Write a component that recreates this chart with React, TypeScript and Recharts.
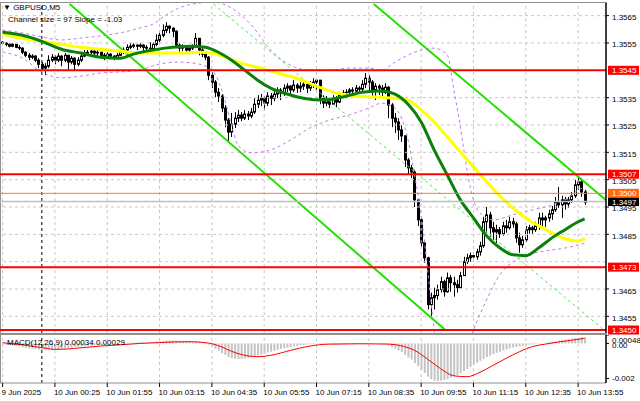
import { ComposedChart, Bar, Line, XAxis, YAxis, ReferenceLine } from 'recharts'

// GBPUSD M5, one entry per bar (open = previous close)
const firstOpen = 1.35553
const closes = [
  1.35549, 1.35545, 1.35538, 1.35545, 1.35534, 1.35531, 1.35516, 1.35505, 1.35498, 1.35502,
  1.35487, 1.35472, 1.35458, 1.35465, 1.35487, 1.35498, 1.35487, 1.35502, 1.35487, 1.35505,
  1.3548, 1.35494, 1.35472, 1.35487, 1.35502, 1.35513, 1.35516, 1.3552, 1.35513, 1.35516,
  1.35505, 1.35498, 1.35509, 1.35502, 1.35494, 1.35505, 1.35516, 1.35524, 1.35534, 1.35538,
  1.35542, 1.35538, 1.35542, 1.35534, 1.35531, 1.35527, 1.35545, 1.3556, 1.35578, 1.35596,
  1.35611, 1.35604, 1.35593, 1.35542, 1.35531, 1.35534, 1.35524, 1.35531, 1.35538, 1.35567,
  1.35524, 1.35509, 1.35498, 1.35432, 1.35407, 1.3537, 1.35356, 1.35312, 1.35268, 1.35224,
  1.35253, 1.35275, 1.35286, 1.35275, 1.3529, 1.35283, 1.35297, 1.35326, 1.35341, 1.35348,
  1.3533, 1.35356, 1.35348, 1.35363, 1.35378, 1.35367, 1.35385, 1.35392, 1.35378, 1.35396,
  1.35385, 1.35392, 1.35399, 1.35385, 1.35396, 1.35407, 1.35414, 1.35348, 1.3533, 1.35341,
  1.35326, 1.35348, 1.35334, 1.35359, 1.35367, 1.3537, 1.35378, 1.35374, 1.35385, 1.35381,
  1.35399, 1.35421, 1.35407, 1.35378, 1.35392, 1.35385, 1.3537, 1.35388, 1.35323, 1.35275,
  1.35261, 1.35232, 1.3521, 1.35122, 1.35093, 1.35078, 1.34976, 1.34903, 1.34819, 1.34764,
  1.34593, 1.34618, 1.34626, 1.34648, 1.34677, 1.3464, 1.34691, 1.34673, 1.34666, 1.34655,
  1.34699, 1.3475, 1.34764, 1.34772, 1.34768, 1.34786, 1.34808, 1.34896, 1.34921, 1.34874,
  1.34859, 1.34867, 1.34852, 1.34881, 1.34874, 1.34896, 1.34888, 1.34837, 1.34812, 1.3483,
  1.34867, 1.34874, 1.34867, 1.34881, 1.3491, 1.34903, 1.3491, 1.34925, 1.3494, 1.34969,
  1.34958, 1.34976, 1.34961, 1.34976, 1.34991, 1.35031, 1.35042, 1.35005, 1.34968,
]
const highs = [
  1.35556, 1.35553, 1.35549, 1.35549, 1.35545, 1.35542, 1.35534, 1.3552, 1.35513, 1.35509,
  1.35505, 1.35494, 1.3548, 1.35476, 1.35505, 1.35509, 1.35505, 1.35513, 1.35505, 1.35513,
  1.35505, 1.35502, 1.35498, 1.35498, 1.35509, 1.35524, 1.35524, 1.35527, 1.35524, 1.35524,
  1.35516, 1.35513, 1.35516, 1.35513, 1.35505, 1.35513, 1.35524, 1.35534, 1.35545, 1.35549,
  1.35549, 1.35545, 1.35549, 1.35545, 1.35542, 1.35553, 1.35553, 1.35582, 1.35596, 1.35618,
  1.35626, 1.35615, 1.35607, 1.35596, 1.35549, 1.35545, 1.35542, 1.35538, 1.35545, 1.35586,
  1.35567, 1.35531, 1.3552, 1.35502, 1.35443, 1.35414, 1.35385, 1.35363, 1.35323, 1.35275,
  1.35294, 1.35297, 1.35305, 1.35297, 1.35305, 1.35301, 1.35312, 1.35348, 1.35359, 1.35363,
  1.35356, 1.3537, 1.35367, 1.35381, 1.35388, 1.35385, 1.35399, 1.35403, 1.35396, 1.35414,
  1.35403, 1.35407, 1.35414, 1.35407, 1.3541, 1.35421, 1.35421, 1.35414, 1.35359, 1.35356,
  1.35348, 1.35359, 1.35356, 1.3537, 1.35378, 1.35381, 1.35385, 1.35388, 1.35396, 1.35392,
  1.35414, 1.3544, 1.35432, 1.35414, 1.35403, 1.35399, 1.35396, 1.35403, 1.35392, 1.3533,
  1.35294, 1.35275, 1.3525, 1.35213, 1.35129, 1.35104, 1.35086, 1.34976, 1.3491, 1.3483,
  1.34768, 1.34637, 1.34655, 1.34666, 1.34695, 1.34684, 1.3471, 1.34702, 1.34695, 1.34684,
  1.34713, 1.34768, 1.34779, 1.34783, 1.34786, 1.34797, 1.34823, 1.34914, 1.3495, 1.34932,
  1.34896, 1.34885, 1.34877, 1.34896, 1.34903, 1.34914, 1.3491, 1.34896, 1.34856, 1.34845,
  1.34881, 1.34885, 1.34881, 1.34896, 1.34929, 1.34929, 1.34918, 1.3494, 1.34954, 1.34987,
  1.35023, 1.34991, 1.34987, 1.34987, 1.35005, 1.35049, 1.35064, 1.35056, 1.35013,
]
const lows = [
  1.35542, 1.35538, 1.35534, 1.35534, 1.35531, 1.35524, 1.35509, 1.35498, 1.35487, 1.35491,
  1.3548, 1.35458, 1.35447, 1.35432, 1.35458, 1.3548, 1.35472, 1.3548, 1.35465, 1.3548,
  1.35451, 1.35472, 1.35451, 1.35465, 1.3548, 1.35498, 1.35505, 1.35509, 1.35505, 1.35502,
  1.35494, 1.35487, 1.35494, 1.35491, 1.35487, 1.35491, 1.35502, 1.35509, 1.3552, 1.35527,
  1.35531, 1.35524, 1.35531, 1.3552, 1.35513, 1.35513, 1.35527, 1.35538, 1.35553, 1.35571,
  1.35586, 1.35586, 1.35571, 1.35531, 1.35516, 1.3552, 1.35513, 1.35516, 1.35524, 1.35531,
  1.35505, 1.35498, 1.35487, 1.35414, 1.35385, 1.35352, 1.35334, 1.35297, 1.35242, 1.35184,
  1.35206, 1.35239, 1.35261, 1.35264, 1.35268, 1.35268, 1.35275, 1.3529, 1.35312, 1.35319,
  1.35305, 1.35319, 1.35323, 1.35337, 1.35348, 1.35341, 1.35356, 1.3537, 1.35359, 1.3537,
  1.35367, 1.3537, 1.35378, 1.35367, 1.35374, 1.35385, 1.35378, 1.35326, 1.35312, 1.35319,
  1.35312, 1.35323, 1.35315, 1.3533, 1.35352, 1.35356, 1.35359, 1.35363, 1.35367, 1.35367,
  1.3537, 1.35385, 1.3537, 1.35352, 1.35341, 1.35359, 1.35352, 1.35363, 1.35275, 1.35242,
  1.35221, 1.35195, 1.35188, 1.35096, 1.35067, 1.35056, 1.3495, 1.34881, 1.34804, 1.34746,
  1.34575, 1.34545, 1.34575, 1.34611, 1.34637, 1.34622, 1.34637, 1.3464, 1.34622, 1.34637,
  1.34655, 1.34699, 1.34742, 1.3475, 1.34753, 1.34757, 1.34772, 1.34801, 1.34856, 1.34841,
  1.3483, 1.34819, 1.34837, 1.34845, 1.34856, 1.34867, 1.34874, 1.34819, 1.34783, 1.34801,
  1.34823, 1.34852, 1.34852, 1.34859, 1.34867, 1.34877, 1.34877, 1.34896, 1.34903, 1.34932,
  1.34947, 1.3491, 1.3494, 1.34947, 1.34965, 1.34983, 1.35013, 1.34987, 1.34958,
]

// indicator lines, read at sample bars
const fastMaBars = [0, 6, 12, 18, 24, 30, 36, 40, 46, 52, 58, 62, 66, 70, 74, 78, 82, 86, 92, 98, 104, 110, 116, 120, 124, 128, 132, 136, 140, 144, 148, 152, 156, 160, 164, 168, 172, 176, 178]
const fastMaValues = [1.35589, 1.35578, 1.35556, 1.35527, 1.35513, 1.35498, 1.35494, 1.35509, 1.35524, 1.35534, 1.35538, 1.35534, 1.35516, 1.35487, 1.35451, 1.35414, 1.35385, 1.35367, 1.35348, 1.35341, 1.35352, 1.3537, 1.35374, 1.35363, 1.35326, 1.35261, 1.35158, 1.35067, 1.34976, 1.3491, 1.34845, 1.34801, 1.34775, 1.34772, 1.34801, 1.34837, 1.34867, 1.34896, 1.34907]
const slowMaBars = [0, 6, 12, 18, 24, 30, 36, 42, 48, 54, 60, 64, 68, 72, 78, 84, 90, 96, 102, 108, 114, 120, 124, 128, 132, 136, 140, 144, 148, 152, 156, 160, 164, 168, 172, 176, 178]
const slowMaValues = [1.35582, 1.35567, 1.35556, 1.35545, 1.35534, 1.35527, 1.3552, 1.35513, 1.35513, 1.35513, 1.35516, 1.35513, 1.35498, 1.3548, 1.35461, 1.3544, 1.35421, 1.35392, 1.35367, 1.35356, 1.35352, 1.35348, 1.35341, 1.35305, 1.35261, 1.35206, 1.35151, 1.35096, 1.35042, 1.34991, 1.34947, 1.3491, 1.34881, 1.34856, 1.34834, 1.34826, 1.34834]
const upperBandBars = [0, 6, 12, 18, 24, 30, 36, 42, 46, 50, 54, 60, 64, 70, 76, 82, 88, 94, 100, 106, 112, 116, 120, 124, 128, 132, 136, 138, 140, 142, 144, 146, 150, 156, 162, 168, 172, 176, 178]
const upperBandValues = [1.35597, 1.35587, 1.35572, 1.35561, 1.35568, 1.35576, 1.35587, 1.35605, 1.35619, 1.35652, 1.35678, 1.35696, 1.357, 1.35678, 1.35616, 1.35524, 1.35469, 1.35451, 1.35451, 1.35458, 1.35458, 1.35451, 1.3548, 1.35506, 1.35524, 1.35531, 1.35506, 1.35378, 1.35243, 1.35085, 1.34976, 1.34928, 1.34903, 1.34921, 1.34939, 1.34957, 1.34976, 1.35012, 1.35023]
const lowerBandBars = [0, 6, 12, 18, 24, 30, 36, 42, 48, 54, 60, 64, 68, 70, 72, 76, 82, 88, 94, 100, 106, 112, 116, 120, 124, 126, 128, 130, 132, 134, 136, 140, 144, 148, 152, 156, 160, 164, 168, 172, 176, 178]
const lowerBandValues = [1.35517, 1.35495, 1.35444, 1.35422, 1.35429, 1.3544, 1.35444, 1.35451, 1.35473, 1.3548, 1.35473, 1.35451, 1.35341, 1.3525, 1.35176, 1.35148, 1.35159, 1.35195, 1.35239, 1.35268, 1.35287, 1.35312, 1.3533, 1.35312, 1.35195, 1.35067, 1.34921, 1.3472, 1.345, 1.34354, 1.34318, 1.34354, 1.345, 1.3461, 1.34701, 1.34749, 1.34774, 1.34785, 1.34793, 1.348, 1.34811, 1.34818]

// MACD(12,26,9): main value per bar, signal read at sample bars
const macdHist = [
  -0.00006, -0.00008, -0.0001, -0.00012, -0.00015, -0.00018, -0.00022, -0.00025, -0.00028, -0.0003,
  -0.00033, -0.00035, -0.00036, -0.00037, -0.00036, -0.00035, -0.00034, -0.00032, -0.0003, -0.00028,
  -0.00026, -0.00024, -0.00022, -0.0002, -0.00018, -0.00016, -0.00014, -0.00012, -0.0001, -0.00008,
  -0.00006, -0.00004, -0.00003, -0.00002, -0.00001, 0, 0.00001, 0.00002, 0.00003, 0.00004,
  0.00004, 0.00005, 0.00005, 0.00006, 0.00006, 0.00007, 0.00008, 0.0001, 0.00012, 0.00014,
  0.00016, 0.00017, 0.00017, 0.00015, 0.00013, 0.00012, 0.00011, 0.0001, 0.00009, 0.0001,
  0.00008, 0.00006, 0.00003, -0.00008, -0.00018, -0.0003, -0.00042, -0.00055, -0.00066, -0.00078,
  -0.00084, -0.00088, -0.00089, -0.00088, -0.00086, -0.00083, -0.00079, -0.00074, -0.00069, -0.00064,
  -0.00058, -0.00052, -0.00047, -0.00042, -0.00037, -0.00032, -0.00028, -0.00024, -0.0002, -0.00017,
  -0.00014, -0.00011, -0.00009, -0.00007, -0.00005, -0.00004, -0.00002, -0.00003, -0.00005, -0.00006,
  -0.00007, -0.00007, -0.00007, -0.00006, -0.00005, -0.00005, -0.00004, -0.00004, -0.00003, -0.00003,
  -0.00002, -0.00001, -0.00001, -0.00002, -0.00002, -0.00003, -0.00004, -0.00005, -0.00012, -0.00022,
  -0.0003, -0.0004, -0.0005, -0.00066, -0.0008, -0.00092, -0.00112, -0.0013, -0.0015, -0.00168,
  -0.0019, -0.00204, -0.00212, -0.00214, -0.00212, -0.00208, -0.00203, -0.00196, -0.00188, -0.0018,
  -0.0017, -0.00158, -0.00146, -0.00134, -0.00122, -0.0011, -0.001, -0.00088, -0.00078, -0.0007,
  -0.00062, -0.00054, -0.00047, -0.0004, -0.00034, -0.00028, -0.00023, -0.0002, -0.00017, -0.00014,
  -0.00011, -0.00008, -0.00006, -0.00004, -0.00002, 0, 0.00003, 0.00006, 0.00009, 0.00012,
  0.00016, 0.0002, 0.00023, 0.00026, 0.00028, 0.00031, 0.00034, 0.00036, 0.00034,
]
const signalBars = [0, 6, 12, 16, 20, 24, 30, 36, 42, 48, 57, 63, 67, 70, 74, 78, 82, 88, 94, 100, 110, 118, 122, 126, 130, 134, 138, 142, 146, 150, 154, 158, 162, 166, 170, 174, 178]
const signalValues = [0.00004, -0.00008, -0.00024, -0.00034, -0.00032, -0.00025, -0.00015, -0.00008, 0, 0.00005, 0.0001, 0.00002, -0.0002, -0.00045, -0.00068, -0.00076, -0.00068, -0.0004, -0.00015, -0.00004, -0.00002, -0.00004, -0.00014, -0.0004, -0.0009, -0.00145, -0.00185, -0.0019, -0.00165, -0.00125, -0.00085, -0.00048, -0.00018, -0.00004, 0.00008, 0.00018, 0.00029]

// channel lines: [bar, price] end points
const channelLow = [[20.5, 1.356926], [135.6, 1.344979]]
const channelMid = [[64.5, 1.356926], [183.9, 1.345001]]
const channelHigh = [[113.5, 1.356926], [184.5, 1.349756]]

const timeTicks = [0, 16, 32, 48, 64, 80, 96, 112, 128, 144, 160, 176]
const timeLabels = ['9 Jun 2025', '10 Jun 00:25', '10 Jun 01:55', '10 Jun 03:15', '10 Jun 04:35', '10 Jun 05:55', '10 Jun 07:15', '10 Jun 08:35', '10 Jun 09:55', '10 Jun 11:15', '10 Jun 12:35', '10 Jun 13:55']
const dayStartBar = 12
const gridPrices = [1.3455, 1.3465, 1.3475, 1.3485, 1.3495, 1.3505, 1.3515, 1.3525, 1.3535, 1.3545, 1.3555, 1.3565]
const priceTicks = [1.3455, 1.3465, 1.3485, 1.3495, 1.3505, 1.3515, 1.3525, 1.3535, 1.3555, 1.3565]
const redLevels = [1.3545, 1.3507, 1.3473, 1.345]
const roundLevel = 1.35
const bidPrice = 1.3497
const macdTicks = [-0.002, 0, 0.00048]
const macdLast = [0.00034, 0.00029]

const FONT = '"Liberation Sans", Arial, sans-serif'
const X_DOMAIN = [-0.795, 184.53]
const PRICE_DOMAIN = [1.344891, 1.356962]
const MACD_DOMAIN = [-0.00226, 0.00048]

const knots = (bars: number[], values: number[]) => {
  const m = new Map<number, number>()
  bars.forEach((b, k) => m.set(b, values[k]))
  return m
}
const fastMap = knots(fastMaBars, fastMaValues)
const slowMap = knots(slowMaBars, slowMaValues)
const upperMap = knots(upperBandBars, upperBandValues)
const lowerMap = knots(lowerBandBars, lowerBandValues)
const signalMap = knots(signalBars, signalValues)

const rows = closes.map((close, i) => ({
  i,
  open: i === 0 ? firstOpen : closes[i - 1],
  close,
  high: highs[i],
  low: lows[i],
  hist: macdHist[i],
  fast: fastMap.get(i) ?? null,
  slow: slowMap.get(i) ?? null,
  upper: upperMap.get(i) ?? null,
  lower: lowerMap.get(i) ?? null,
  signal: signalMap.get(i) ?? null,
}))

function Candle(props: any) {
  const { x, y, width, height, payload } = props
  if (x == null || payload == null) return null
  const top = Math.min(y, y + height)
  const h = Math.abs(height)
  const { open, close, high, low } = payload
  const k = high === low ? 0 : h / (high - low)
  const yO = top + (high - open) * k
  const yC = top + (high - close) * k
  const cx = Math.round(x + width / 2) + 0.5
  const b0 = Math.min(yO, yC)
  const b1 = Math.max(yO, yC)
  const bull = close > open
  return (
    <g>
      <line x1={cx} x2={cx} y1={top} y2={top + h} stroke="#000" strokeWidth={1} />
      <rect x={cx - 1} y={b0} width={2} height={Math.max(b1 - b0, 0.8)} fill={bull ? '#fff' : '#000'} stroke="#000" strokeWidth={1} />
    </g>
  )
}

function Tag(props: any) {
  const { viewBox, text, bg, fg } = props
  if (!viewBox) return null
  const x = viewBox.x + viewBox.width + 1
  const y = viewBox.y
  return (
    <g>
      <rect x={x + 1} y={y - 4.5} width={31} height={9} fill={bg} />
      <text x={x + 5} y={y + 3} fontSize={8} fill={fg} fontFamily={FONT}>{text}</text>
    </g>
  )
}

function TimeTick(props: any) {
  const { x, y, payload } = props
  const idx = timeTicks.indexOf(payload.value)
  return (
    <text x={x - 1} y={y + 6} fontSize={8} fill="#000" fontFamily={FONT} textAnchor="start">
      {timeLabels[idx]}
    </text>
  )
}

function PriceTick(props: any) {
  const { x, y, payload } = props
  return (
    <text x={x} y={y + 4.5} fontSize={8} fill="#000" fontFamily={FONT}>{payload.value.toFixed(4)}</text>
  )
}

function MacdTick(props: any) {
  const { x, y, payload } = props
  const v = payload.value
  const label = v === 0 ? '0.00' : v === MACD_DOMAIN[1] ? '0.00048' : v.toFixed(3)
  const dy = v === MACD_DOMAIN[1] ? 8 : v === 0 ? 4.5 : 3
  return (
    <text x={x} y={y + dy} fontSize={8} fill="#000" fontFamily={FONT}>{label}</text>
  )
}

const gridStroke = '#c8c8c8'

export default function App() {
  return (
    <div style={{ position: 'absolute', left: 0, top: 0, width: 640, height: 401, background: '#fff', fontFamily: FONT }}>
      <div style={{ position: 'absolute', left: 0, top: 2, width: 606, height: 330, borderLeft: '1px solid #909090', borderTop: '1px solid #909090', borderBottom: '1px solid #909090' }} />
      <div style={{ position: 'absolute', left: 0, top: 334, width: 606, height: 48, borderLeft: '1px solid #909090', borderTop: '1px solid #909090' }} />

      <div style={{ position: 'absolute', left: 0, top: 0 }}>
        <ComposedChart width={640} height={335} data={rows} margin={{ top: 3, right: 0, bottom: 2, left: 0 }}>
          <XAxis type="number" dataKey="i" domain={X_DOMAIN} allowDataOverflow hide />
          <YAxis
            orientation="right"
            width={34}
            domain={PRICE_DOMAIN}
            allowDataOverflow
            ticks={priceTicks}
            interval={0}
            tick={<PriceTick />}
            tickSize={3}
            tickMargin={3}
            axisLine={{ stroke: '#000', strokeWidth: 1.5 }}
            tickLine={{ stroke: '#000' }}
          />
          {gridPrices.map((p) => (
            <ReferenceLine key={'g' + p} y={p} stroke={gridStroke} strokeDasharray="3 3" />
          ))}
          {timeTicks.map((t) => (
            <ReferenceLine key={'v' + t} x={t} stroke={gridStroke} strokeDasharray="3 3" />
          ))}
          <ReferenceLine x={dayStartBar} stroke="#000" strokeDasharray="3 3" />

          <Line dataKey="upper" type="monotone" connectNulls stroke="#c27de8" strokeWidth={1} strokeDasharray="3 3" dot={false} isAnimationActive={false} />
          <Line dataKey="lower" type="monotone" connectNulls stroke="#c27de8" strokeWidth={1} strokeDasharray="3 3" dot={false} isAnimationActive={false} />

          <ReferenceLine segment={channelLow.map(([x, y]) => ({ x, y }))} stroke="#22e000" strokeWidth={2} />
          <ReferenceLine segment={channelHigh.map(([x, y]) => ({ x, y }))} stroke="#22e000" strokeWidth={2} />
          <ReferenceLine segment={channelMid.map(([x, y]) => ({ x, y }))} stroke="#4ee84e" strokeWidth={1} strokeDasharray="3 3" />

          <Line dataKey="slow" type="monotone" connectNulls stroke="#ffff00" strokeWidth={3} dot={false} isAnimationActive={false} />
          <Line dataKey="fast" type="monotone" connectNulls stroke="#0a800a" strokeWidth={3} dot={false} isAnimationActive={false} />

          <Bar dataKey={(d: any) => [d.low, d.high]} barSize={3} shape={<Candle />} isAnimationActive={false} />

          <ReferenceLine y={bidPrice} stroke="#c0c0c0" strokeWidth={1.5} label={<Tag text={bidPrice.toFixed(4)} bg="#000" fg="#fff" />} />
          <ReferenceLine y={roundLevel} stroke="#ff7a3c" strokeWidth={1} label={<Tag text={roundLevel.toFixed(4)} bg="#ff6a1a" fg="#fff" />} />
          {redLevels.map((p) => (
            <ReferenceLine key={'r' + p} y={p} stroke="#ff0000" strokeWidth={2} label={<Tag text={p.toFixed(4)} bg="#ff0000" fg="#fff" />} />
          ))}
        </ComposedChart>
      </div>

      <div style={{ position: 'absolute', left: 0, top: 335 }}>
        <ComposedChart width={640} height={66} data={rows} margin={{ top: 0, right: 0, bottom: 0, left: 0 }}>
          <XAxis
            type="number"
            dataKey="i"
            domain={X_DOMAIN}
            allowDataOverflow
            ticks={timeTicks}
            interval={0}
            tick={<TimeTick />}
            tickSize={4}
            height={18}
            axisLine={{ stroke: '#909090' }}
            tickLine={{ stroke: '#000' }}
          />
          <YAxis
            orientation="right"
            width={34}
            domain={MACD_DOMAIN}
            allowDataOverflow
            ticks={macdTicks}
            interval={0}
            tick={<MacdTick />}
            tickSize={3}
            tickMargin={3}
            axisLine={{ stroke: '#000', strokeWidth: 1.5 }}
            tickLine={{ stroke: '#000' }}
          />
          {timeTicks.map((t) => (
            <ReferenceLine key={'mv' + t} x={t} stroke={gridStroke} strokeDasharray="3 3" />
          ))}
          <ReferenceLine x={dayStartBar} stroke="#000" strokeDasharray="3 3" />
          <Bar dataKey="hist" fill="#c4c4c4" barSize={2} isAnimationActive={false} />
          <Line dataKey="signal" type="monotone" connectNulls stroke="#ff0000" strokeWidth={1} dot={false} isAnimationActive={false} />
        </ComposedChart>
      </div>

      <svg width={640} height={401} style={{ position: 'absolute', left: 0, top: 0, pointerEvents: 'none' }}>
        <text x={3} y={10} fontSize={8} fill="#000" fontFamily={FONT}>▼ GBPUSD,M5</text>
        <text x={8} y={22} fontSize={8} fill="#000" fontFamily={FONT}>Channel size = 97 Slope = -1.03</text>
        <text x={7} y={345} fontSize={8} fill="#000" fontFamily={FONT}>
          {`MACD(12,26,9) ${macdLast[0].toFixed(5)} ${macdLast[1].toFixed(5)}`}
        </text>
      </svg>
    </div>
  )
}
